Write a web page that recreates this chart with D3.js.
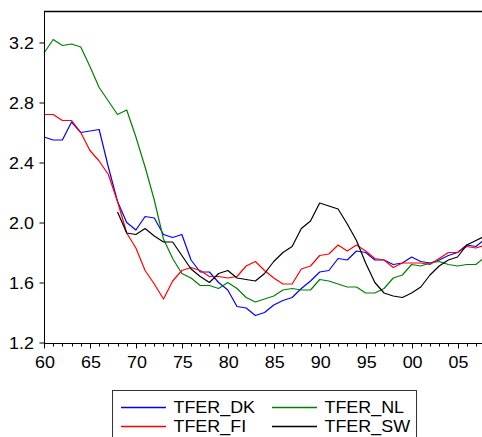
<!DOCTYPE html>
<html>
<head>
<meta charset="utf-8">
<script src="https://cdn.jsdelivr.net/npm/d3@7"></script>
<style>
  html, body { margin: 0; padding: 0; background: #fff; overflow: hidden; }
  svg { display: block; }
  text { font-family: "Liberation Sans", Arial, sans-serif; fill: #000; }
</style>
</head>
<body>
<svg id="chart" width="482" height="437"></svg>
<script>
// Total fertility rate by year, 1960-2008
const years = d3.range(1960, 2009);

const tferDK = [2.57, 2.55, 2.55, 2.67, 2.60, 2.61, 2.62, 2.37, 2.14, 2.00,
                1.95, 2.04, 2.03, 1.92, 1.90, 1.92, 1.75, 1.67, 1.67, 1.60,
                1.55, 1.44, 1.43, 1.38, 1.40, 1.45, 1.48, 1.50, 1.56, 1.61,
                1.67, 1.68, 1.76, 1.75, 1.81, 1.80, 1.75, 1.75, 1.72, 1.73,
                1.77, 1.74, 1.73, 1.75, 1.78, 1.80, 1.85, 1.84, 1.89];

const tferNL = [3.13, 3.22, 3.18, 3.19, 3.17, 3.04, 2.90, 2.81, 2.72, 2.75,
                2.57, 2.37, 2.15, 1.89, 1.76, 1.66, 1.63, 1.58, 1.58, 1.56,
                1.60, 1.56, 1.50, 1.47, 1.49, 1.51, 1.55, 1.56, 1.55, 1.55,
                1.62, 1.61, 1.59, 1.57, 1.57, 1.53, 1.53, 1.56, 1.63, 1.65,
                1.72, 1.71, 1.73, 1.74, 1.72, 1.71, 1.72, 1.72, 1.77];

const tferFI = [2.72, 2.72, 2.68, 2.68, 2.60, 2.48, 2.41, 2.32, 2.14, 1.93,
                1.83, 1.68, 1.59, 1.49, 1.61, 1.68, 1.70, 1.68, 1.64, 1.64,
                1.63, 1.64, 1.71, 1.74, 1.68, 1.63, 1.59, 1.59, 1.69, 1.71,
                1.78, 1.79, 1.85, 1.81, 1.85, 1.81, 1.76, 1.75, 1.70, 1.73,
                1.73, 1.73, 1.72, 1.76, 1.80, 1.80, 1.84, 1.83, 1.85];

const tferSW = [null, null, null, null, null, null, null, null, 2.07, 1.93,
                1.92, 1.96, 1.91, 1.87, 1.87, 1.78, 1.69, 1.64, 1.60, 1.66,
                1.68, 1.63, 1.62, 1.61, 1.66, 1.74, 1.80, 1.84, 1.96, 2.01,
                2.13, 2.11, 2.09, 1.99, 1.88, 1.73, 1.60, 1.53, 1.51, 1.50,
                1.53, 1.57, 1.65, 1.71, 1.75, 1.77, 1.85, 1.88, 1.91];

const yTicks = [1.2, 1.6, 2.0, 2.4, 2.8, 3.2];
const xMajorTicks = [1960, 1965, 1970, 1975, 1980, 1985, 1990, 1995, 2000, 2005];

const series = [
  { name: "TFER_DK", values: tferDK, color: "#0000ff" },
  { name: "TFER_NL", values: tferNL, color: "#008000" },
  { name: "TFER_FI", values: tferFI, color: "#ff0000" },
  { name: "TFER_SW", values: tferSW, color: "#000000" }
];

const svg = d3.select("#chart");
const stretch = 1.12;   // wide lettering used by the chart text

const plotLeft = 44, plotTop = 11, plotBottom = 343;
const x = d3.scaleLinear().domain([1960, 2008]).range([plotLeft, plotLeft + 48 * 9.19]);
const y = d3.scaleLinear().domain([1.2, 3.41]).range([342.5, plotTop]);

// plot frame (top edge; right edge runs past the window)
svg.append("line")
  .attr("x1", plotLeft).attr("x2", 500).attr("y1", plotTop + 0.5).attr("y2", plotTop + 0.5)
  .attr("stroke", "#000").attr("stroke-width", 1.3);

// series lines
const line = d3.line()
  .defined(d => d.v != null)
  .x(d => x(d.year))
  .y(d => y(d.v));

series.forEach(s => {
  const pts = years.map((yr, i) => ({ year: yr, v: s.values[i] }));
  svg.append("path")
    .datum(pts)
    .attr("fill", "none")
    .attr("stroke", s.color)
    .attr("stroke-width", 1.2)
    .attr("stroke-linejoin", "round")
    .attr("d", line);
});

// left axis
const yAxis = svg.append("g")
  .attr("transform", `translate(${plotLeft + 0.5},0)`)
  .call(d3.axisLeft(y).tickValues(yTicks).tickFormat(d3.format(".1f")).tickSize(5).tickPadding(6).tickSizeOuter(0));
yAxis.select(".domain").attr("stroke", "#000").attr("d", `M0,${plotTop}V${plotBottom}`);
yAxis.selectAll(".tick line").attr("stroke", "#000");
yAxis.selectAll(".tick text")
  .attr("font-size", 16)
  .attr("font-family", "Liberation Sans, Arial, sans-serif")
  .attr("x", -10.5 / stretch)
  .attr("dy", "0.36em")
  .attr("transform", `scale(${stretch},1)`);

// bottom axis: minor ticks each year, labelled ticks every five years
const xAxisG = svg.append("g").attr("transform", `translate(0,${plotBottom + 0.5})`);
xAxisG.append("line")
  .attr("x1", plotLeft).attr("x2", 500).attr("y1", 0).attr("y2", 0)
  .attr("stroke", "#000").attr("stroke-width", 1);
xAxisG.selectAll("line.minor")
  .data(years)
  .join("line")
  .attr("class", "minor")
  .attr("x1", d => Math.round(x(d)) + 0.5).attr("x2", d => Math.round(x(d)) + 0.5)
  .attr("y1", 0)
  .attr("y2", d => xMajorTicks.includes(d) ? 5 : 3)
  .attr("stroke", "#000");
xAxisG.selectAll("text.lab")
  .data(xMajorTicks)
  .join("text")
  .attr("class", "lab")
  .attr("transform", d => `translate(${x(d) + 1},24) scale(${stretch},1)`)
  .attr("text-anchor", "middle")
  .attr("font-size", 16)
  .text(d => String(d).slice(2));

// legend
const legend = svg.append("g");
legend.append("rect")
  .attr("x", 112.5).attr("y", 390.5)
  .attr("width", 304).attr("height", 60)
  .attr("fill", "#fff").attr("stroke", "#333").attr("stroke-width", 1);

const legendCols = [121, 272];
const legendRows = [407.5, 426.5];
series.forEach((s, i) => {
  const cx = legendCols[i % 2];
  const cy = legendRows[Math.floor(i / 2)];
  legend.append("line")
    .attr("x1", cx).attr("x2", cx + 45)
    .attr("y1", cy).attr("y2", cy)
    .attr("stroke", s.color).attr("stroke-width", 1.3);
  legend.append("text")
    .attr("transform", `translate(${cx + 52.5},${cy + 5.5}) scale(${stretch},1)`)
    .attr("font-size", 16)
    .text(s.name);
});
</script>
</body>
</html>
